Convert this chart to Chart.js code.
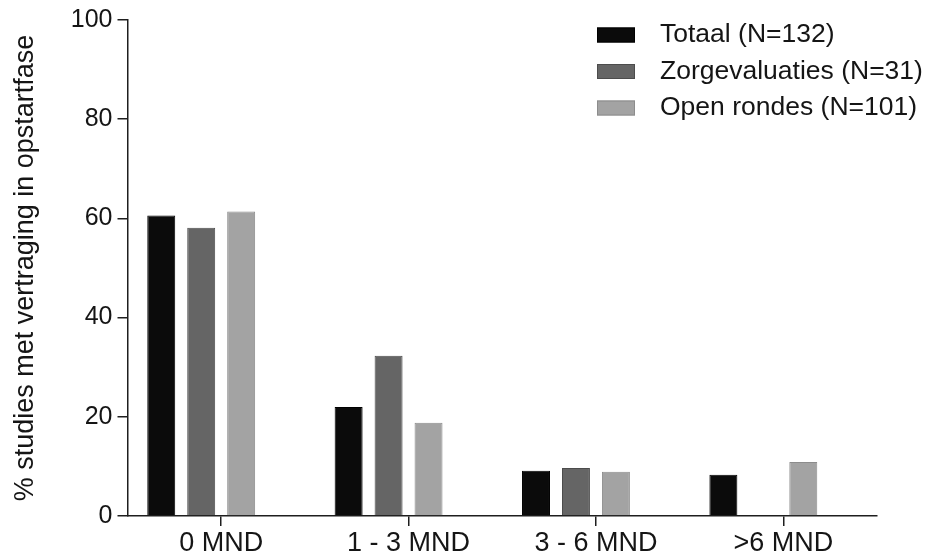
<!DOCTYPE html>
<html>
<head>
<meta charset="utf-8">
<script src="https://cdn.jsdelivr.net/npm/chart.js@4/dist/chart.umd.min.js"></script>
<style>
  html, body { margin: 0; padding: 0; background: #fff; }
  canvas { display: block; }
</style>
</head>
<body>
<canvas id="chart" width="928" height="555"></canvas>
<script>
// Delay in start-up phase, per study type
const categories = ['0 MND', '1 - 3 MND', '3 - 6 MND', '>6 MND'];
const seriesLabels = ['Totaal (N=132)', 'Zorgevaluaties (N=31)', 'Open rondes (N=101)'];
const totaal = [60.6, 22.0, 9.1, 8.3];
const zorgevaluaties = [58.1, 32.3, 9.7, 0];
const openRondes = [61.4, 18.8, 8.9, 10.9];
const yTicks = [0, 20, 40, 60, 80, 100];

const FONT = '"Liberation Sans", Arial, Helvetica, sans-serif';
const INK = '#151515';
const AXIS = '#1e1e1e';

// Legend drawn as boxes plus labels in the upper right corner
const legendBoxes = {
  id: 'legendBoxes',
  afterDraw(chart) {
    const ctx = chart.ctx;
    ctx.save();
    ctx.font = '26.5px ' + FONT;
    ctx.textBaseline = 'middle';
    ctx.textAlign = 'left';
    seriesLabels.forEach((label, i) => {
      const ds = chart.data.datasets[i];
      const y = 35 + i * 36.5;
      ctx.fillStyle = ds.backgroundColor;
      ctx.fillRect(597, y - 7.5, 38, 15);
      ctx.strokeStyle = ds.borderColor;
      ctx.lineWidth = 1;
      ctx.strokeRect(597.5, y - 7, 37, 14);
      ctx.fillStyle = INK;
      ctx.fillText(label, 660, y);
    });
    ctx.restore();
  }
};

new Chart(document.getElementById('chart'), {
  type: 'bar',
  data: {
    labels: categories,
    datasets: [
      { label: seriesLabels[0], data: totaal, backgroundColor: '#0b0b0b', borderColor: '#000000', borderWidth: 1 },
      { label: seriesLabels[1], data: zorgevaluaties, backgroundColor: '#656565', borderColor: '#4c4c4c', borderWidth: 1 },
      { label: seriesLabels[2], data: openRondes, backgroundColor: '#a3a3a3', borderColor: '#8c8c8c', borderWidth: 1 },
      // empty fourth slot: keeps the three bars to the left of each tick
      { label: '', data: categories.map(() => null) }
    ]
  },
  options: {
    responsive: false,
    animation: false,
    events: [],
    layout: { padding: { top: 20, right: 51, bottom: 0, left: 0 } },
    datasets: { bar: { categoryPercentage: 0.853, barPercentage: 0.7 } },
    plugins: {
      legend: { display: false },
      tooltip: { enabled: false }
    },
    scales: {
      x: {
        grid: { drawOnChartArea: false, drawTicks: true, tickLength: 10, offset: false, color: AXIS, lineWidth: 1.5 },
        border: { display: true, color: AXIS, width: 1.5 },
        ticks: { font: { family: FONT, size: 27 }, color: INK, padding: 1, maxRotation: 0, autoSkip: false },
        afterFit(scale) { scale.height = 39; }
      },
      y: {
        min: 0,
        max: 100,
        afterBuildTicks(scale) { scale.ticks = yTicks.map(v => ({ value: v })); },
        grid: { drawOnChartArea: false, drawTicks: true, tickLength: 10, color: AXIS, lineWidth: 1.5 },
        border: { display: true, color: AXIS, width: 1.5 },
        ticks: { font: { family: FONT, size: 25 }, color: INK, padding: 5 },
        title: {
          display: true,
          text: '% studies met vertraging in opstartfase',
          font: { family: FONT, size: 27 },
          color: INK,
          padding: { top: 9, bottom: 0 }
        },
        afterFit(scale) { scale.width = 127.5; }
      }
    }
  },
  plugins: [legendBoxes]
});
</script>
</body>
</html>
